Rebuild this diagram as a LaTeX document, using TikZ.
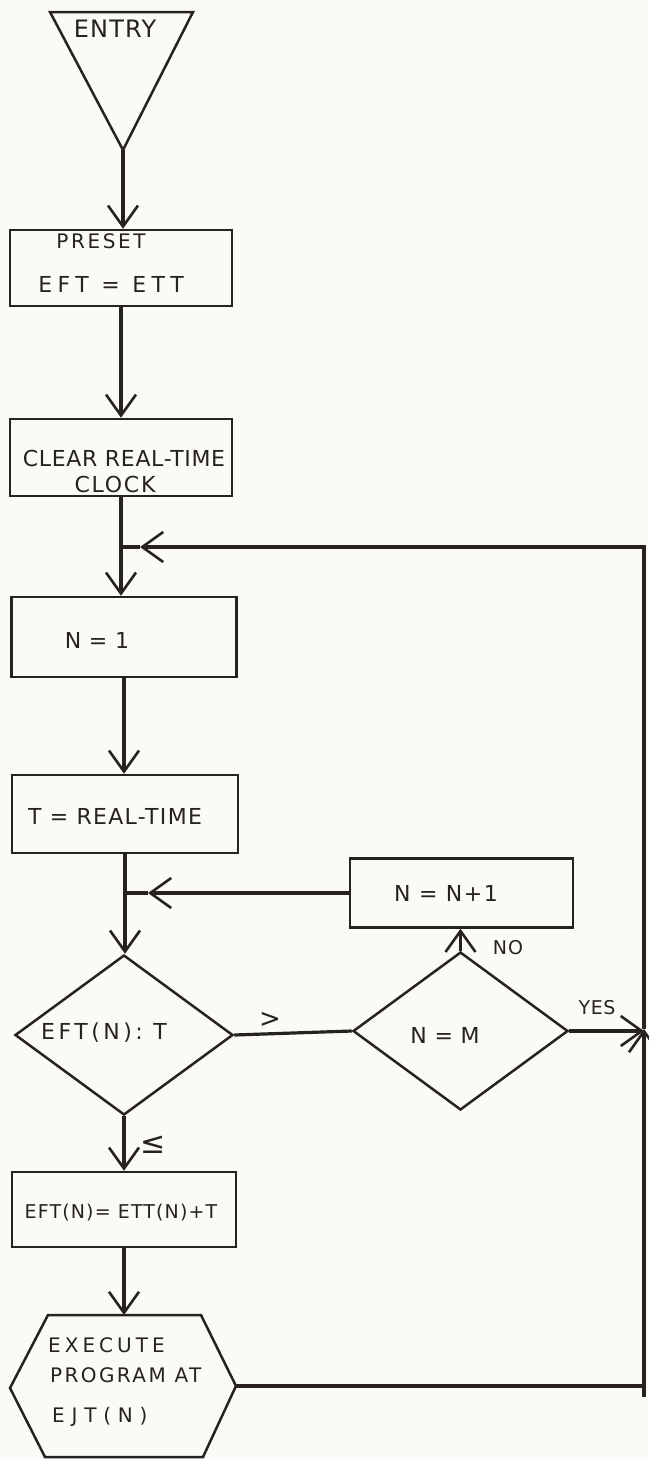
\documentclass[tikz,border=0pt]{standalone}
\usepackage{fontspec}
\usetikzlibrary{arrows.meta,shapes.geometric}
\newfontfamily\hand{DejaVu Sans}
\newcommand\handfont[2]{\hand\fontsize{#1}{#1}\selectfont\addfontfeature{LetterSpace=#2}}
\definecolor{paper}{RGB}{251,251,246}
\definecolor{ink}{RGB}{40,33,33}
\begin{document}
\begin{tikzpicture}[x=1pt,y=-1pt,
  shapeline/.style={draw=ink,line width=2.5pt},
  boxnode/.style={shapeline,rectangle,inner sep=0pt},
  dia/.style={shapeline,diamond,inner sep=0pt},
  conn/.style={draw=ink,line width=3.2pt},
  arr/.style={-{Straight Barb[length=21pt,width=30pt,line width=2.6pt]}},
  txt/.style={text=ink,inner sep=0pt}]
\fill[paper] (0,0) rectangle (648,1459);
\useasboundingbox (0,0) rectangle (648,1459);

% entry triangle
\draw[shapeline,line join=miter] (50,12) -- (193,12) -- (123,150) -- cycle;
\coordinate (apex) at (123,150);
\node[txt,font=\handfont{24}{5}] (entry) at (115,29) {ENTRY};

% boxes
\node[boxnode,minimum width=222pt,minimum height=76pt] (preset) at (121,268) {};
\node[txt,font=\handfont{20}{13}] (presett) at (101,241) {PRESET};
\node[txt,font=\handfont{22}{25}] (presetv) at (111,284) {EFT = ETT};

\node[boxnode,minimum width=222pt,minimum height=77pt] (clear) at (121,457.5) {};
\node[txt,font=\handfont{22}{3}] (cleart1) at (124,458) {CLEAR REAL-TIME};
\node[txt,font=\handfont{22}{8}] (cleart2) at (115,484) {CLOCK};

\node[boxnode,minimum width=225pt,minimum height=80pt] (n1) at (124,637) {};
\node[txt,font=\handfont{22}{3}] (n1t) at (97,640) {N = 1};

\node[boxnode,minimum width=226pt,minimum height=78pt] (tbox) at (125,814) {};
\node[txt,font=\handfont{22}{6}] (tt) at (115,816) {T = REAL-TIME};

\node[boxnode,minimum width=223pt,minimum height=69pt] (np1) at (461.5,893) {};
\node[txt,font=\handfont{22}{7}] (np1t) at (446,893) {N = N+1};

\node[dia,minimum width=218pt,minimum height=160pt] (d1) at (124,1035) {};
\node[txt,font=\handfont{22}{16}] (d1t) at (104,1033) {EFT(N): T};

\node[dia,minimum width=215pt,minimum height=158pt] (d2) at (460.5,1031) {};
\node[txt,font=\handfont{22}{3}] (d2t) at (445,1035) {N = M};

\node[boxnode,minimum width=224pt,minimum height=75pt] (eft) at (124,1209.5) {};
\node[txt,font=\handfont{19}{6}] (eftt) at (121,1213) {EFT(N)= ETT(N)+T};

% hexagon
\draw[shapeline,line join=miter] (48,1315) -- (201,1315) -- (236,1386) -- (203,1457) -- (45,1457) -- (10,1388) -- cycle;
\coordinate (hexT) at (124,1315);
\coordinate (hexR) at (236,1386);
\node[txt,anchor=west,font=\handfont{20}{20}] (ex1) at (48,1345) {EXECUTE};
\node[txt,anchor=west,font=\handfont{20}{12}] (ex2) at (50,1375) {PROGRAM AT};
\node[txt,anchor=west,font=\handfont{20}{34}] (ex3) at (52,1417) {EJT(N)};

% labels
\node[txt,font=\handfont{26}{0}] (gt) at (270,1020) {>};
\node[txt,font=\handfont{30}{0}] (le) at (153,1145) {≤};
\node[txt,font=\handfont{19}{5}] (no) at (508,948) {NO};
\node[txt,font=\handfont{19}{3}] (yes) at (597,1008) {YES};

% coordinates for loop
\coordinate (rbot) at (644,1397);
\coordinate (ryes) at (644,1029);
\coordinate (rtop) at (644,547);
\coordinate (j1) at (123,547);
\coordinate (j1tip) at (140,547);
\coordinate (j2) at (124,893);
\coordinate (j2tip) at (148,893);

% spine
\draw[conn,arr] (apex) -- (apex |- preset.north);
\draw[conn,arr] (preset.south) -- (preset.south |- clear.north);
\draw[conn,arr] (clear.south) -- (clear.south |- n1.north);
\draw[conn,arr] (n1.south) -- (n1.south |- tbox.north);
\draw[conn,arr] (tbox.south) -- (tbox.south |- d1.north);
\draw[conn,arr] (d1.south) -- (d1.south |- eft.north);
\draw[conn,arr] (eft.south) -- (hexT);

% decision branches
\draw[conn] (d1.east) -- (d2.west);
\draw[conn,arr] (d2.north) -- (d2.north |- np1.south);
\draw[conn,arr] (np1.west) -- (j2tip);
\draw[conn] (j2tip) -- (j2);
\draw[conn,arr] (d2.east) -- (d2.east -| ryes);

% outer loop
\draw[conn] (hexR) -- (hexR -| rbot);
\draw[conn,arr] (rbot) -- (ryes);
\draw[conn,arr,line join=miter] (ryes) -- (rtop) -- (j1tip);
\draw[conn] (j1tip) -- (j1);
\end{tikzpicture}
\end{document}
